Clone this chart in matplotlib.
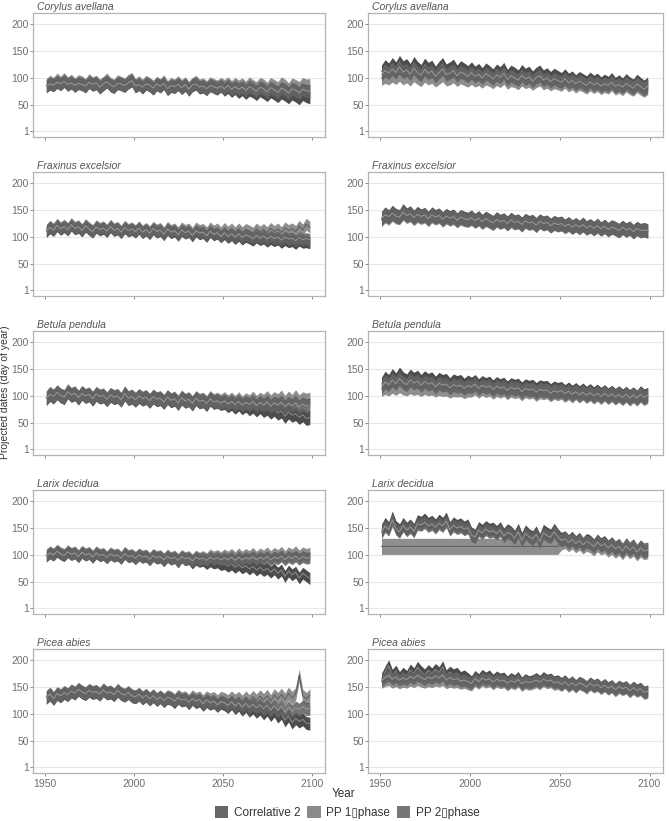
import matplotlib
matplotlib.use("Agg")
import matplotlib.pyplot as plt
from matplotlib.patches import Patch

plt.rcParams['font.family'] = ['Liberation Sans', 'DejaVu Sans']

# ---------------- data ----------------
years = list(range(1951, 2100, 2))
species = ["Corylus avellana", "Fraxinus excelsior", "Betula pendula", "Larix decidua", "Picea abies"]
series_names = ["Correlative 2", "PP 1\u25afphase", "PP 2\u25afphase"]
y_ticks = [1, 50, 100, 150, 200]
x_ticks = [1950, 2000, 2050, 2100]

# Corylus avellana (left / right)
cor_l_corr = [84, 90, 86, 93, 88, 95, 87, 92, 85, 91, 89, 84, 93, 87, 90, 82, 88, 94, 86, 83, 91, 88, 85, 92, 96,
              84, 89, 82, 90, 86, 80, 88, 84, 91, 79, 85, 83, 89, 81, 87, 78, 86, 90, 82, 84, 79, 87, 83, 80, 86,
              78, 83, 76, 81, 74, 79, 72, 78, 75, 70, 77, 73, 68, 75, 71, 66, 73, 69, 64, 71, 67, 62, 70, 66, 64]
cor_l_pp1 = [86, 92, 88, 96, 90, 97, 89, 94, 87, 93, 91, 86, 95, 89, 92, 85, 90, 96, 88, 85, 93, 90, 87, 94, 97,
             86, 91, 85, 92, 88, 83, 90, 86, 93, 82, 88, 85, 91, 84, 89, 81, 88, 92, 85, 87, 82, 89, 86, 83, 88,
             84, 89, 82, 88, 83, 87, 81, 89, 84, 80, 88, 85, 79, 88, 84, 80, 89, 85, 78, 87, 84, 80, 88, 85, 86]
cor_l_pp2 = [85, 89, 87, 92, 89, 94, 88, 91, 86, 90, 88, 85, 92, 88, 91, 83, 89, 93, 87, 84, 90, 89, 86, 91, 95,
             85, 88, 83, 89, 87, 81, 89, 85, 90, 80, 86, 84, 88, 82, 88, 79, 87, 89, 83, 85, 80, 86, 84, 81, 85,
             80, 86, 79, 84, 79, 83, 77, 84, 80, 75, 83, 80, 74, 82, 78, 73, 81, 78, 72, 80, 77, 72, 79, 76, 75]
cor_r_corr = [112, 122, 116, 126, 118, 130, 120, 124, 115, 128, 119, 113, 125, 117, 121, 110, 119, 126, 114, 118, 123, 112, 120, 116, 111,
              118, 110, 115, 107, 116, 111, 105, 114, 109, 117, 104, 112, 108, 103, 113, 106, 110, 101, 108, 112, 103, 107, 100, 106, 102,
              98, 105, 97, 101, 94, 100, 96, 92, 99, 93, 97, 90, 95, 91, 98, 89, 94, 88, 96, 90, 86, 95, 89, 84, 90]
cor_r_pp1 = [100, 104, 101, 106, 102, 108, 101, 105, 99, 107, 102, 98, 106, 101, 104, 97, 102, 107, 99, 101, 105, 98, 103, 100, 97,
             102, 97, 100, 95, 101, 98, 94, 100, 96, 102, 93, 98, 96, 92, 99, 94, 97, 91, 96, 99, 92, 95, 90, 94, 92,
             89, 95, 88, 92, 86, 91, 88, 84, 90, 85, 89, 83, 87, 84, 90, 82, 86, 81, 88, 83, 80, 87, 82, 78, 83]
cor_r_pp2 = [106, 114, 109, 117, 110, 121, 111, 115, 107, 119, 110, 105, 116, 109, 113, 103, 110, 117, 106, 109, 114, 104, 111, 108, 103,
             110, 103, 107, 100, 108, 104, 98, 106, 101, 109, 97, 104, 100, 96, 105, 98, 102, 94, 101, 104, 96, 100, 93, 99, 95,
             92, 99, 91, 95, 89, 94, 90, 86, 93, 87, 91, 85, 89, 86, 92, 84, 88, 83, 90, 85, 81, 89, 84, 79, 85]

# Fraxinus excelsior
fra_l_corr = [110, 117, 112, 121, 114, 119, 113, 122, 115, 118, 111, 120, 114, 109, 118, 113, 116, 110, 119, 112, 115, 108, 117, 111, 114,
              109, 116, 108, 113, 106, 115, 109, 112, 104, 114, 108, 111, 103, 112, 107, 110, 102, 111, 106, 108, 101, 110, 104, 107, 100,
              106, 99, 104, 97, 103, 96, 101, 98, 94, 100, 95, 98, 92, 97, 93, 96, 90, 95, 91, 93, 88, 94, 90, 91, 89]
fra_l_pp1 = [113, 120, 115, 124, 117, 122, 116, 125, 118, 121, 114, 123, 117, 112, 121, 116, 119, 113, 122, 115, 118, 111, 120, 114, 117,
             112, 119, 111, 116, 110, 118, 113, 116, 108, 118, 112, 115, 108, 117, 112, 115, 107, 117, 112, 114, 108, 117, 111, 115, 108,
             116, 109, 115, 108, 115, 108, 114, 111, 107, 115, 109, 114, 108, 116, 110, 115, 108, 117, 112, 115, 110, 120, 113, 124, 118]
fra_l_pp2 = [111, 118, 113, 122, 115, 120, 114, 123, 116, 119, 112, 121, 115, 110, 119, 114, 117, 111, 120, 113, 116, 109, 118, 112, 115,
             110, 117, 109, 114, 107, 116, 110, 113, 105, 115, 109, 112, 104, 113, 108, 111, 103, 112, 107, 109, 102, 111, 105, 108, 101,
             108, 101, 106, 100, 106, 99, 104, 101, 97, 103, 98, 102, 96, 101, 97, 100, 94, 100, 96, 98, 93, 99, 95, 97, 95]
fra_r_corr = [134, 143, 137, 146, 140, 138, 149, 141, 145, 137, 144, 139, 142, 135, 143, 138, 141, 134, 140, 136, 139, 132, 138, 135, 133,
              137, 131, 136, 129, 135, 131, 127, 134, 129, 132, 126, 133, 128, 130, 124, 131, 127, 129, 123, 130, 126, 128, 122, 127, 124,
              126, 120, 125, 119, 123, 118, 124, 117, 121, 116, 122, 115, 120, 114, 119, 116, 112, 118, 113, 117, 110, 116, 112, 114, 111]
fra_r_pp1 = [132, 139, 135, 142, 137, 136, 144, 138, 141, 134, 140, 136, 139, 132, 139, 135, 138, 131, 137, 133, 136, 130, 135, 132, 131,
             134, 129, 133, 127, 132, 129, 125, 131, 127, 130, 124, 130, 126, 128, 122, 129, 125, 127, 121, 128, 124, 126, 120, 125, 122,
             124, 119, 123, 118, 122, 117, 122, 116, 120, 115, 120, 114, 119, 113, 118, 115, 111, 117, 112, 116, 109, 115, 111, 113, 110]
fra_r_pp2 = [135, 141, 138, 144, 139, 137, 146, 140, 143, 136, 142, 138, 141, 134, 141, 137, 140, 133, 139, 135, 138, 131, 137, 134, 132,
             136, 130, 135, 128, 134, 130, 126, 133, 128, 131, 125, 132, 127, 129, 123, 130, 126, 128, 122, 129, 125, 127, 121, 126, 123,
             125, 120, 124, 118, 123, 118, 123, 117, 121, 116, 121, 115, 120, 114, 118, 116, 112, 118, 113, 116, 110, 116, 112, 113, 112]

# Betula pendula
bet_l_corr = [95, 103, 98, 106, 100, 97, 108, 101, 104, 96, 105, 99, 102, 94, 103, 98, 100, 93, 101, 97, 99, 92, 104, 95, 98,
              92, 99, 94, 97, 90, 98, 93, 95, 88, 97, 91, 94, 86, 96, 90, 93, 85, 95, 89, 91, 84, 94, 88, 90, 86,
              88, 82, 86, 79, 85, 78, 83, 76, 81, 74, 80, 73, 77, 70, 75, 68, 72, 62, 70, 64, 67, 60, 65, 58, 60]
bet_l_pp1 = [97, 105, 100, 108, 102, 99, 110, 103, 106, 98, 107, 101, 104, 96, 105, 100, 102, 95, 103, 99, 101, 94, 106, 97, 100,
             94, 101, 96, 99, 92, 100, 95, 97, 90, 99, 93, 96, 89, 98, 92, 95, 88, 97, 92, 94, 88, 97, 91, 94, 90,
             95, 89, 94, 88, 95, 87, 93, 89, 96, 88, 94, 90, 97, 89, 95, 91, 98, 88, 96, 90, 99, 89, 95, 92, 94]
bet_l_pp2 = [96, 103, 99, 107, 101, 98, 108, 102, 105, 97, 105, 100, 103, 95, 104, 99, 101, 94, 102, 98, 100, 93, 105, 96, 99,
             93, 100, 95, 98, 91, 99, 94, 96, 89, 98, 92, 95, 87, 97, 91, 94, 86, 96, 90, 92, 86, 95, 89, 91, 87,
             91, 85, 90, 84, 90, 83, 88, 84, 90, 82, 88, 83, 89, 81, 87, 83, 88, 80, 86, 82, 87, 79, 85, 81, 82]
bet_r_corr = [122, 133, 127, 138, 130, 141, 132, 128, 137, 131, 135, 127, 134, 129, 132, 124, 131, 127, 129, 121, 128, 125, 127, 120, 126,
              122, 127, 119, 125, 121, 124, 117, 123, 119, 122, 115, 121, 118, 120, 113, 119, 116, 118, 112, 117, 115, 116, 110, 115, 112,
              114, 108, 113, 107, 112, 106, 111, 105, 110, 104, 109, 103, 108, 102, 107, 101, 106, 100, 105, 99, 104, 98, 106, 100, 103]
bet_r_pp1 = [113, 117, 114, 119, 115, 120, 116, 114, 118, 115, 117, 113, 117, 114, 116, 112, 115, 113, 114, 110, 113, 112, 113, 109, 112,
             112, 116, 110, 115, 111, 114, 108, 113, 110, 113, 107, 112, 109, 111, 105, 111, 108, 110, 104, 109, 107, 109, 103, 108, 105,
             108, 102, 107, 101, 107, 101, 106, 100, 105, 99, 104, 98, 104, 98, 103, 97, 102, 96, 102, 95, 101, 95, 102, 96, 100]
bet_r_pp2 = [117, 126, 121, 130, 123, 133, 125, 121, 130, 124, 128, 120, 127, 122, 125, 117, 124, 120, 122, 115, 121, 118, 120, 114, 119,
             117, 122, 114, 120, 116, 119, 112, 118, 114, 117, 110, 116, 113, 115, 108, 114, 111, 113, 107, 112, 110, 111, 105, 110, 107,
             110, 104, 109, 103, 108, 102, 107, 101, 106, 100, 105, 99, 105, 99, 104, 98, 103, 97, 103, 96, 102, 96, 103, 97, 101]

# Larix decidua
lar_l_corr = [98, 104, 100, 107, 102, 99, 106, 101, 104, 97, 105, 100, 103, 96, 104, 99, 101, 95, 102, 98, 100, 94, 103, 97, 99,
              93, 100, 96, 98, 91, 99, 94, 96, 89, 97, 92, 95, 87, 96, 91, 93, 85, 92, 88, 90, 84, 89, 85, 87, 82,
              84, 79, 83, 77, 82, 76, 80, 74, 79, 72, 77, 71, 75, 68, 74, 66, 72, 60, 70, 63, 68, 57, 66, 61, 56]
lar_l_pp1 = [99, 105, 101, 108, 103, 100, 107, 102, 105, 98, 106, 101, 104, 97, 105, 100, 102, 96, 103, 99, 101, 95, 104, 98, 100,
             95, 101, 97, 99, 93, 100, 96, 98, 92, 99, 94, 97, 91, 98, 94, 96, 90, 97, 93, 96, 92, 99, 95, 98, 94,
             99, 95, 100, 94, 101, 95, 100, 96, 102, 95, 101, 97, 103, 96, 102, 98, 104, 96, 103, 99, 105, 97, 103, 100, 102]
lar_l_pp2 = [98, 104, 100, 107, 102, 99, 106, 101, 104, 97, 105, 100, 103, 96, 104, 99, 101, 95, 102, 98, 100, 94, 103, 97, 99,
             94, 100, 96, 98, 92, 99, 95, 97, 91, 98, 93, 96, 90, 97, 93, 95, 89, 96, 92, 94, 90, 96, 92, 95, 91,
             95, 91, 96, 90, 96, 91, 95, 92, 97, 91, 96, 92, 97, 91, 96, 93, 98, 91, 97, 93, 98, 92, 97, 94, 95]
lar_r_corr = [145, 158, 150, 170, 152, 146, 158, 149, 155, 147, 163, 160, 166, 158, 162, 155, 164, 158, 168, 150, 159, 154, 157, 151, 155,
              140, 136, 150, 145, 152, 147, 149, 143, 150, 138, 146, 142, 134, 147, 130, 144, 137, 133, 142, 128, 145, 140, 136, 147, 137,
              130, 133, 126, 132, 124, 130, 121, 128, 125, 118, 127, 120, 124, 116, 122, 114, 119, 110, 120, 112, 118, 108, 116, 110, 112]
lar_r_pp1 = [116, 116, 116, 116, 116, 116, 116, 116, 116, 116, 116, 116, 116, 116, 116, 116, 116, 116, 116, 116, 116, 116, 116, 116, 116,
             116, 116, 116, 116, 116, 116, 116, 116, 116, 116, 116, 116, 116, 116, 116, 116, 116, 116, 116, 116, 116, 116, 116, 116, 116,
             124, 127, 121, 126, 119, 124, 117, 122, 119, 113, 121, 115, 118, 111, 116, 109, 114, 106, 115, 108, 113, 104, 111, 106, 108]
lar_r_pp2 = [142, 154, 147, 165, 149, 143, 155, 146, 152, 144, 158, 156, 161, 154, 158, 151, 159, 154, 163, 147, 155, 150, 153, 148, 151,
             137, 133, 146, 141, 148, 143, 145, 140, 146, 135, 142, 139, 131, 143, 127, 140, 134, 130, 138, 125, 141, 136, 133, 143, 134,
             127, 130, 123, 129, 121, 127, 119, 125, 122, 115, 124, 117, 121, 113, 119, 111, 116, 107, 117, 109, 115, 105, 113, 107, 109]

# Picea abies
pic_l_corr = [130, 136, 128, 137, 133, 139, 135, 142, 138, 145, 140, 137, 143, 139, 141, 136, 144, 138, 140, 135, 143, 137, 134, 139, 133,
              131, 136, 129, 134, 127, 133, 126, 131, 124, 130, 128, 122, 130, 125, 127, 120, 128, 122, 125, 117, 124, 119, 122, 115, 121,
              118, 113, 120, 111, 117, 108, 115, 106, 112, 104, 110, 101, 108, 98, 106, 95, 102, 88, 97, 84, 92, 86, 90, 83, 82]
pic_l_pp1 = [132, 138, 130, 139, 135, 141, 137, 144, 140, 147, 142, 139, 145, 141, 143, 138, 146, 140, 142, 137, 145, 139, 136, 141, 135,
             133, 138, 131, 136, 129, 135, 128, 133, 127, 133, 131, 126, 134, 129, 131, 125, 133, 128, 131, 124, 131, 127, 130, 124, 130,
             128, 124, 131, 125, 130, 123, 131, 124, 132, 125, 133, 126, 134, 124, 135, 128, 136, 127, 138, 130, 137, 172, 134, 128, 135]
pic_l_pp2 = [131, 137, 129, 138, 134, 140, 136, 143, 139, 146, 141, 138, 144, 140, 142, 137, 145, 139, 141, 136, 144, 138, 135, 140, 134,
             132, 137, 130, 135, 128, 134, 127, 132, 125, 131, 129, 124, 131, 126, 128, 122, 129, 124, 127, 119, 126, 121, 124, 117, 123,
             121, 116, 123, 115, 121, 113, 120, 112, 118, 111, 117, 109, 116, 107, 115, 106, 114, 103, 113, 105, 112, 108, 114, 109, 110]
pic_r_corr = [165, 178, 190, 172, 180, 168, 176, 170, 182, 175, 187, 179, 173, 181, 175, 183, 177, 188, 171, 178, 173, 176, 168, 171, 166,
              160, 170, 164, 172, 167, 171, 163, 169, 165, 167, 160, 166, 162, 168, 158, 164, 160, 162, 166, 161, 168, 163, 165, 160, 162,
              157, 162, 155, 160, 153, 159, 156, 151, 158, 153, 156, 150, 155, 149, 153, 146, 152, 148, 151, 144, 150, 145, 148, 141, 143]
pic_r_pp1 = [160, 163, 165, 160, 163, 159, 162, 160, 164, 161, 165, 162, 160, 163, 161, 164, 162, 165, 159, 162, 160, 161, 158, 160, 157,
             155, 163, 158, 164, 160, 163, 157, 162, 159, 161, 155, 160, 157, 162, 154, 159, 156, 158, 161, 157, 163, 159, 161, 156, 158,
             154, 159, 152, 157, 151, 157, 154, 149, 156, 151, 154, 148, 153, 147, 151, 144, 150, 146, 149, 142, 148, 143, 146, 139, 141]
pic_r_pp2 = [162, 168, 172, 165, 169, 163, 167, 164, 170, 166, 172, 168, 164, 169, 166, 171, 167, 173, 163, 168, 164, 166, 161, 163, 160,
             157, 166, 160, 167, 163, 166, 159, 165, 161, 163, 157, 162, 159, 164, 156, 161, 158, 160, 163, 159, 165, 161, 163, 158, 160,
             155, 160, 153, 158, 152, 158, 155, 150, 157, 152, 155, 149, 154, 148, 152, 145, 151, 147, 150, 143, 149, 144, 147, 140, 142]

# ribbon half-widths (days) per panel, per series
hw_left = [[12, 13, 12], [11, 11, 11], [13, 13, 13], [11, 12, 11], [12, 12, 12]]
hw_right = [[12, 14, 12], [13, 13, 13], [13, 14, 13], [12, 15, 12], [11, 12, 11]]

left_data = [(cor_l_corr, cor_l_pp1, cor_l_pp2), (fra_l_corr, fra_l_pp1, fra_l_pp2),
             (bet_l_corr, bet_l_pp1, bet_l_pp2), (lar_l_corr, lar_l_pp1, lar_l_pp2),
             (pic_l_corr, pic_l_pp1, pic_l_pp2)]
right_data = [(cor_r_corr, cor_r_pp1, cor_r_pp2), (fra_r_corr, fra_r_pp1, fra_r_pp2),
              (bet_r_corr, bet_r_pp1, bet_r_pp2), (lar_r_corr, lar_r_pp1, lar_r_pp2),
              (pic_r_corr, pic_r_pp1, pic_r_pp2)]

# ---------------- style ----------------
fill_cols = ['#333333', '#7e7e7e', '#616161']
line_cols = ['#8f8f8f', '#5c5c5c', '#9a9a9a']
key_cols = ['#666666', '#8a8a8a', '#767676']

W, H = 669, 821
fig = plt.figure(figsize=(W / 100, H / 100), dpi=100)

row_tops = [13, 172, 331, 490, 649]
col_lefts = [33, 368]
col_widths = [292, 295]
ph = 124

for r in range(5):
    for c in range(2):
        ax = fig.add_axes([col_lefts[c] / W, 1 - (row_tops[r] + ph) / H, col_widths[c] / W, ph / H])
        data = (left_data if c == 0 else right_data)[r]
        hws = (hw_left if c == 0 else hw_right)[r]
        for k in range(3):
            vals = data[k]
            yrs = years[:len(vals)]
            lo = [v - hws[k] for v in vals]
            hi = [v + hws[k] for v in vals]
            ax.fill_between(yrs, lo, hi, color=fill_cols[k], alpha=0.88, linewidth=0, zorder=2 + k)
            ax.plot(yrs, vals, color=line_cols[k], lw=0.7, zorder=2.5 + k)
        ax.set_xlim(1943.5, 2107.5)
        ax.set_ylim(-10, 221)
        ax.set_yticks(y_ticks)
        ax.set_xticks(x_ticks)
        ax.yaxis.grid(True, color='#e8e8e8', lw=0.8)
        ax.xaxis.grid(False)
        ax.set_axisbelow(True)
        for s in ax.spines.values():
            s.set_color('#b3b3b3')
            s.set_linewidth(0.9)
        ax.tick_params(axis='both', length=2.5, width=0.7, color='#8a8a8a',
                       labelsize=7.5, labelcolor='#6e6e6e')
        ax.tick_params(axis='x', pad=1.5)
        ax.tick_params(axis='y', pad=0.6)
        if r < 4:
            ax.tick_params(axis='x', labelbottom=False)
        ax.text(0.015, 1 + 3 / ph, species[r], transform=ax.transAxes, ha='left', va='baseline',
                fontsize=7.5, style='italic', color='#555555')

fig.text(5.5 / W, 1 - 392 / H, 'Projected dates (day of year)', rotation=90, ha='center', va='center',
         fontsize=7.5, color='#333333')
fig.text(344 / W, 1 - 797 / H, 'Year', ha='center', va='baseline', fontsize=8.5, color='#333333')

handles = [Patch(facecolor=key_cols[k], edgecolor='none') for k in range(3)]
fig.legend(handles, series_names, loc='lower center', bbox_to_anchor=(0.519, -0.006), ncol=3,
           frameon=False, fontsize=8.5, handlelength=1.13, handleheight=1.13,
           handletextpad=0.45, columnspacing=0.6, borderpad=0.1, labelcolor='#333333')

fig.savefig('out.png', dpi=100)
